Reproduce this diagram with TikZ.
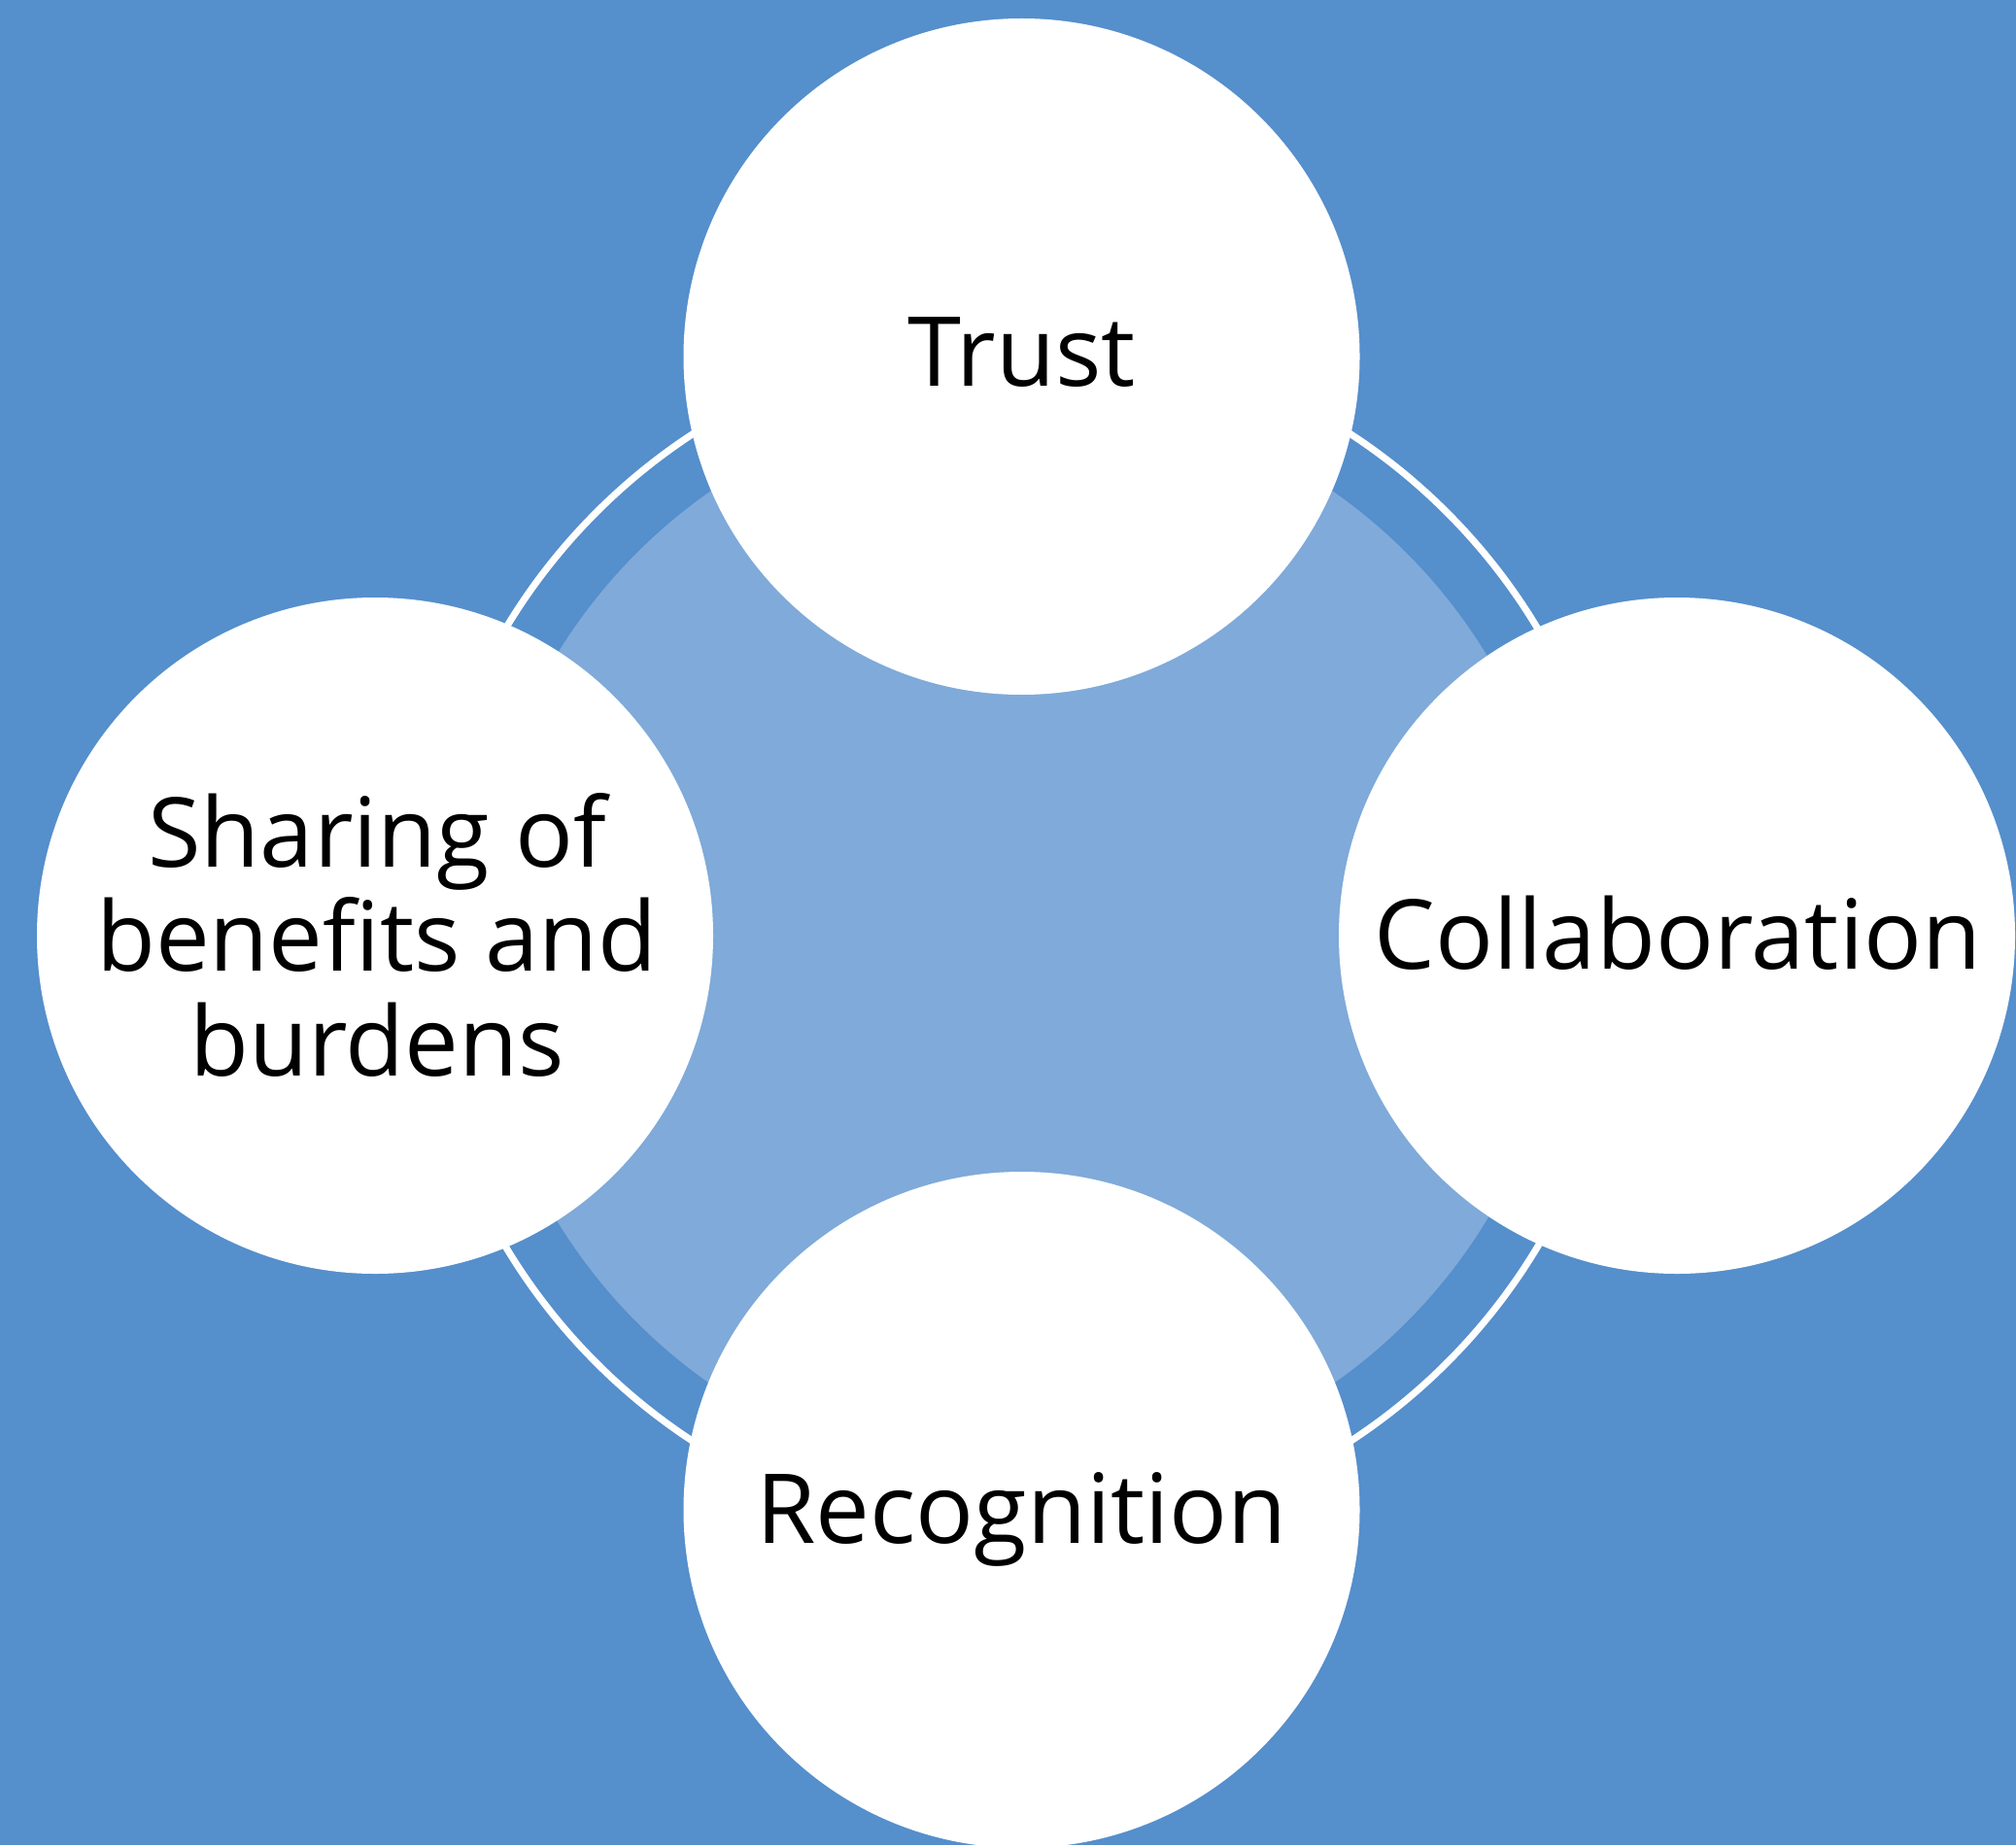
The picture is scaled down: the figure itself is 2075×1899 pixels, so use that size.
\documentclass[tikz,border=0pt]{standalone}
\usepackage{fontspec}
\setmainfont{Open Sans}
\definecolor{bgblue}{RGB}{85,143,204}
\definecolor{lightblue}{RGB}{127,170,217}
\begin{document}
\begin{tikzpicture}[x=0.5pt,y=-0.5pt,
  bubble/.style={circle, fill=white, draw=none, minimum size=348pt, inner sep=0pt, outer sep=0pt},
  lbl/.style={font=\fontsize{49.7}{53.75}\selectfont, text=black, inner sep=0pt, outer sep=0pt, align=center},
  ringline/.style={draw=white, line width=3.5pt}]
\fill[bgblue] (0,0) rectangle (2075,1899);
\useasboundingbox (0,0) rectangle (2075,1899);
\coordinate (hub) at (1051.5,965);
\fill[lightblue] (hub) circle[radius=560];
\draw[ringline] (hub) circle[radius=619];
\node[bubble] (trust) at (1051.5,367) {};
\node[bubble] (collab) at (1726,963) {};
\node[bubble] (recog) at (1051.5,1554) {};
\node[bubble] (share) at (386,963) {};
\node[lbl, anchor=base] (trust-t) at (1051.5,397) {Trust};
\node[lbl, anchor=base] (collab-t) at (1727,997) {Collaboration};
\node[lbl, anchor=base] (recog-t) at (1051.5,1588) {Recognition};
\node[lbl] (share-t) at (388,962) {Sharing of\\benefits and\\burdens};
\end{tikzpicture}
\end{document}
